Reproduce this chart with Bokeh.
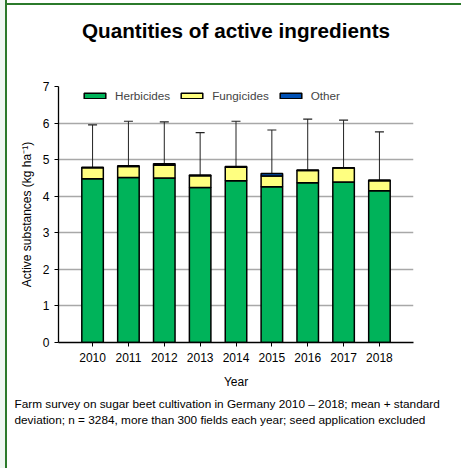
from bokeh.plotting import figure
from bokeh.layouts import column
from bokeh.models import (ColumnDataSource, Whisker, TeeHead, FixedTicker, Title,
                          Legend, Range1d)
from bokeh.embed import file_html
from bokeh.resources import INLINE

years = [2010, 2011, 2012, 2013, 2014, 2015, 2016, 2017, 2018]
herbicides = [4.48, 4.51, 4.50, 4.24, 4.42, 4.26, 4.37, 4.39, 4.15]
fungicides = [0.30, 0.30, 0.35, 0.32, 0.37, 0.29, 0.33, 0.38, 0.27]
other = [0.01, 0.02, 0.04, 0.02, 0.02, 0.07, 0.02, 0.01, 0.02]
sd = [1.16, 1.22, 1.14, 1.16, 1.24, 1.19, 1.39, 1.30, 1.32]
y_ticks = [0, 1, 2, 3, 4, 5, 6, 7]

title_text = "Quantities of active ingredients"
note_1 = "Farm survey on sugar beet cultivation in Germany 2010 \u2013 2018; mean + standard"
note_2 = "deviation; n = 3284, more than 300 fields each year; seed application excluded"

FONT = "Liberation Sans"

total = [h + f + o for h, f, o in zip(herbicides, fungicides, other)]
upper = [t + s for t, s in zip(total, sd)]

src = ColumnDataSource(dict(year=years, Herbicides=herbicides, Fungicides=fungicides,
                            Other=other, total=total, upper=upper))

p = figure(width=454, height=463, output_backend="svg", toolbar_location=None,
           x_range=Range1d(2009.05, 2018.95), y_range=Range1d(0, 7),
           min_border_left=51, min_border_right=48, min_border_top=81,
           min_border_bottom=126)
p.outline_line_color = None
p.background_fill_color = "white"
p.border_fill_color = "white"

# spacer between frame and title (keeps the title near the top of the page)
spacer = Title(text=" ", text_font=FONT, text_font_size="12px", standoff=15)
p.add_layout(spacer, "above")
t = Title(text=title_text, align="center", vertical_align="top", text_font=FONT,
          text_font_size="20.7px", text_font_style="bold", text_color="black",
          standoff=24)
p.add_layout(t, "above")

renderers = p.vbar_stack(["Herbicides", "Fungicides", "Other"], x="year", width=0.6,
                         source=src, fill_color=["#00b35a", "#ffff80", "#0050b4"],
                         line_color="black", line_width=1.5)

w = Whisker(source=src, base="year", upper="upper", lower="total", dimension="height",
            line_color="#222222", line_width=1,
            upper_head=TeeHead(size=9, line_color="#222222", line_width=1.2),
            lower_head=None)
p.add_layout(w)

legend = Legend(items=[(n, [r]) for n, r in zip(["Herbicides", "Fungicides", "Other"], renderers)],
                orientation="horizontal", location=(23, 240), padding=0, margin=0,
                spacing=8, label_standoff=7, glyph_width=27, glyph_height=7,
                label_text_font=FONT, label_text_font_size="11.7px",
                background_fill_alpha=0, border_line_color=None)
p.add_layout(legend, "center")

p.xaxis.ticker = FixedTicker(ticks=years)
p.yaxis.ticker = FixedTicker(ticks=y_ticks)
for ax in (p.xaxis, p.yaxis):
    ax.major_label_text_font = FONT
    ax.major_label_text_font_size = "12px"
    ax.major_label_text_color = "black"
    ax.axis_label_text_font = FONT
    ax.axis_label_text_font_size = "12px"
    ax.axis_label_text_font_style = "normal"
    ax.axis_label_text_color = "black"
    ax.axis_line_color = "black"
    ax.axis_line_width = 1.3
    ax.major_tick_line_color = "black"
    ax.major_tick_in = 0
    ax.major_tick_out = 4
    ax.minor_tick_line_color = None
    ax.major_label_standoff = 5

p.xaxis.major_label_standoff = 6
p.xaxis.axis_label = "Year"
p.xaxis.axis_label_standoff = 10
p.yaxis.axis_label = "Active substances (kg ha\u207b\u00b9)"
p.yaxis.axis_label_standoff = 6

p.xgrid.grid_line_color = None
p.ygrid.grid_line_color = "#a8a8a8"
p.ygrid.grid_line_width = 1.5

for i, txt in enumerate([note_1, note_2]):
    nt = Title(text=txt, align="left", text_font=FONT, text_font_size="11.8px",
               text_font_style="normal", text_color="black", offset=-44,
               standoff=6 if i == 0 else -6)
    p.add_layout(nt, "below")

page = column(p, styles={
    "background": ("linear-gradient(to right, #eef7f1 5px, transparent 5px), "
                   "linear-gradient(to bottom, transparent 3px, #2b7a2b 3px, #2b7a2b 5px, transparent 5px), "
                   "linear-gradient(to right, #eef7f1 5px, #2b7a2b 5px, #2b7a2b 7px, #ffffff 7px)"),
    "padding-left": "7px", "padding-top": "5px"})

open("out.html", "w").write(file_html(page, INLINE))
